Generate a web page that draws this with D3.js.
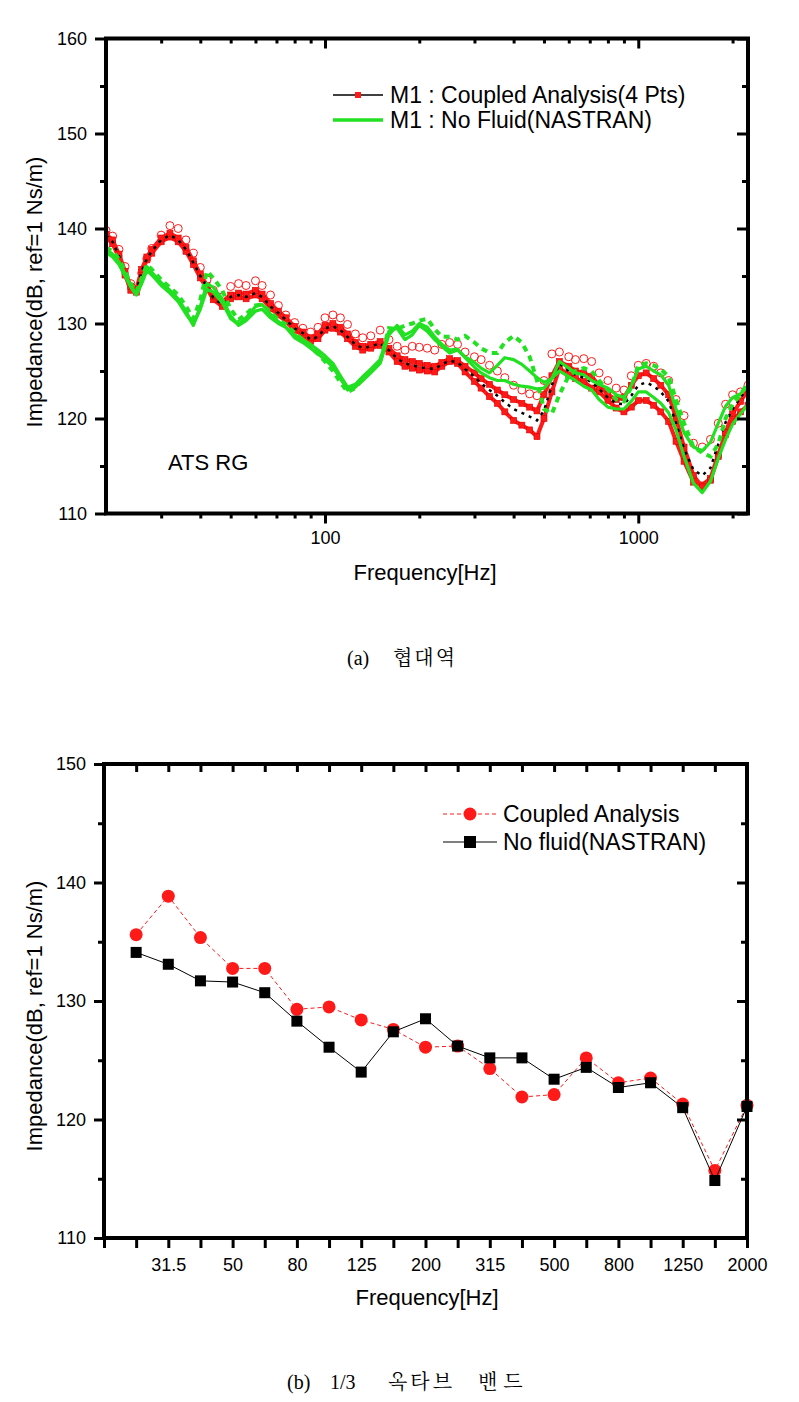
<!DOCTYPE html>
<html><head><meta charset="utf-8">
<script src="https://cdn.jsdelivr.net/npm/d3@7"></script>
<style>body{margin:0;background:#fff;} svg{display:block;} text{fill:#000;}</style>
</head><body><svg id="c" width="799" height="1402"></svg>
<script>
// ---------- (a) narrow band data ----------
const nbFreq = [20,21,22,23,24,25,26,27,28,30,
 32,34,36,38,40,42,44,47,50,53,
 56,60,63,67,71,75,80,85,90,95,
 100,106,112,118,125,132,140,150,160,170,
 180,190,200,212,224,236,250,265,280,300,
 315,335,355,375,400,425,450,475,500,530,
 560,600,630,670,710,750,800,850,900,950,
 1000,1060,1120,1180,1250,1320,1400,1500,1600,1700,
 1800,1900,2000,2120,2240];
const cplSqA = [139.1,138.4,136.9,135.1,133.5,133.3,135.4,136.7,137.4,138.6,
 139.1,138.6,137.6,136.2,134.8,133.7,132.5,131.8,132.6,132.8,
 132.6,133.0,132.6,131.6,130.9,130.2,129.3,128.8,128.1,128.4,
 129.3,129.5,129.1,128.4,127.6,127.2,127.4,127.7,127.0,126.0,
 125.5,125.3,125.1,125.0,124.9,125.5,126.0,125.8,124.9,123.9,
 123.2,122.3,121.6,120.7,119.8,119.3,118.8,118.1,120.0,122.8,
 125.3,124.6,124.2,123.9,123.2,122.8,121.9,121.1,120.7,121.2,
 121.9,121.9,121.4,120.7,119.7,117.6,115.5,113.3,113.0,113.7,
 116.2,118.3,119.7,120.7,121.4];
const cplSqB = [139.4,138.8,137.3,135.5,133.9,133.6,135.7,137.0,137.8,139.0,
 139.5,139.0,138.0,136.6,135.2,134.0,132.9,132.3,133.0,133.2,
 133.1,133.5,133.1,132.1,131.3,130.6,129.7,129.1,128.5,128.9,
 129.8,130.0,129.6,128.9,128.0,127.6,127.8,128.1,127.4,126.6,
 126.2,126.0,125.8,125.6,125.5,125.9,126.3,126.1,125.5,124.8,
 124.2,123.6,123.0,122.5,122.0,121.6,121.2,120.8,122.5,124.5,
 126.0,125.5,125.0,124.8,124.4,123.5,122.5,122.0,122.2,123.5,
 124.5,124.8,124.2,123.5,122.5,120.0,117.0,114.0,112.8,113.5,
 116.0,118.5,120.5,121.8,123.0];
const cplCirc = [139.8,139.2,137.8,136.0,134.2,133.6,135.3,136.8,137.9,139.3,
 140.3,140.0,138.8,137.4,135.9,134.6,133.5,132.8,133.9,134.2,
 134.0,134.5,134.0,133.0,131.9,130.9,130.1,129.5,129.1,129.6,
 130.6,130.9,130.6,129.9,128.9,128.5,128.7,129.3,128.3,127.6,
 127.2,127.6,127.5,127.4,127.2,127.8,128.0,127.8,127.0,126.5,
 126.2,125.6,125.0,124.3,123.5,123.0,122.6,122.4,124.0,126.8,
 127.0,126.5,126.2,126.3,126.0,124.8,124.0,123.2,123.0,124.5,
 125.6,125.8,125.5,124.8,124.0,122.0,120.3,117.4,117.0,117.8,
 119.5,121.5,122.5,122.8,123.5];
const cplDash = [139.3,138.6,137.1,135.3,133.7,133.4,135.5,136.8,137.6,138.8,
 139.3,138.8,137.8,136.4,135.0,133.9,132.7,132.0,132.8,133.0,
 132.8,133.2,132.8,131.8,131.1,130.4,129.5,129.0,128.3,128.6,
 129.5,129.7,129.3,128.6,127.8,127.4,127.6,127.9,127.2,126.3,
 125.8,125.6,125.4,125.3,125.2,125.7,126.1,125.9,125.2,124.4,
 123.7,123.0,122.4,121.7,121.0,120.6,120.2,119.8,120.8,123.5,
 125.8,125.0,124.6,124.3,123.8,123.1,122.2,121.6,121.5,122.4,
 123.5,123.8,123.4,122.8,121.8,119.5,116.8,114.6,114.0,114.8,
 117.3,119.6,121.0,122.2,123.3];
const nfA = [137.8,137.3,136.5,135.3,134.0,133.1,134.5,136.0,135.4,134.3,
 133.5,132.6,131.3,129.8,131.8,134.2,133.8,132.6,130.8,129.8,
 130.3,131.3,131.5,130.6,130.0,129.6,128.8,128.3,127.8,127.2,
 126.6,125.8,124.5,123.3,123.6,124.4,125.2,126.2,129.2,129.5,
 128.3,128.8,129.8,129.2,128.3,127.6,126.9,127.2,126.5,125.9,
 125.3,124.8,125.6,126.4,126.2,125.7,125.0,124.3,123.8,124.2,
 126.0,125.3,124.8,124.6,124.0,123.6,123.2,122.5,122.2,123.5,
 125.2,125.5,125.0,124.6,123.5,121.0,118.5,117.0,116.6,117.5,
 119.5,121.3,122.2,122.6,123.5];
const nfB = [137.5,137.0,136.2,135.0,133.8,133.0,134.2,135.6,135.1,134.0,
 133.2,132.3,131.0,129.9,131.5,133.6,133.3,132.2,130.5,129.9,
 130.6,131.8,132.0,131.0,130.2,129.6,128.5,128.0,127.4,126.8,
 126.2,125.4,124.2,123.0,123.3,124.0,124.8,125.8,128.8,129.8,
 128.8,129.2,130.0,129.6,128.6,127.8,127.2,127.3,126.4,125.4,
 124.8,124.3,124.0,124.0,123.6,123.4,123.3,123.1,123.2,124.2,
 125.0,124.4,124.0,123.4,123.0,122.0,121.2,121.0,121.0,121.8,
 122.8,122.8,122.2,121.6,120.6,118.8,116.0,113.2,112.2,113.4,
 115.8,117.8,119.4,120.5,121.5];
const nfC = [138.0,137.6,136.8,135.5,134.2,133.3,134.8,136.2,135.7,134.6,
 133.8,133.0,131.8,130.5,132.5,135.5,134.8,133.5,131.5,130.4,
 131.0,131.9,132.0,131.2,130.4,129.9,129.0,128.3,127.5,126.8,
 126.0,125.0,123.8,122.8,123.2,124.2,125.0,126.0,129.5,129.4,
 129.8,130.0,130.3,130.5,129.4,128.6,128.6,128.3,128.7,128.0,
 127.4,126.9,126.9,128.0,128.7,128.0,126.5,124.0,121.0,120.5,
 122.5,124.5,125.0,125.3,125.0,124.0,123.0,122.0,121.8,123.3,
 125.6,125.8,125.6,125.2,124.4,122.0,119.5,117.0,116.4,116.0,
 117.3,120.0,121.5,122.5,123.8];
const nbMajorTicks = [100, 1000];
const nbMinorTicks = [30,40,50,60,70,80,90,200,300,400,500,600,700,800,900,2000];
const yTicksA = [110,120,130,140,150,160];
const yMinorA = [115,125,135,145,155];
const legendA = ["M1 : Coupled Analysis(4 Pts)", "M1 : No Fluid(NASTRAN)"];

// ---------- (b) 1/3 octave data ----------
const bandLabels = ["20","25","31.5","40","50","63","80","100","125","160","200","250","315","400","500","630","800","1000","1250","1600","2000"];
const obBands = ["25","31.5","40","50","63","80","100","125","160","200","250","315","400","500","630","800","1000","1250","1600","2000"];
const coupledOB = [135.6,138.85,135.35,132.75,132.75,129.3,129.5,128.4,127.6,126.1,126.2,124.3,121.9,122.1,125.2,123.1,123.5,121.3,115.7,121.2];
const noFluidOB = [134.1,133.1,131.7,131.6,130.7,128.3,126.1,124.0,127.4,128.5,126.2,125.2,125.2,123.4,124.4,122.7,123.1,121.0,114.85,121.1];
const obShownLabels = ["31.5","50","80","125","200","315","500","800","1250","2000"];
const yTicksB = [110,120,130,140,150];
const yMinorB = [115,125,135,145];
const legendB = ["Coupled Analysis", "No fluid(NASTRAN)"];

const RED = "#ff1a1a", GREEN = "#22e022";
const SANS = 'Arial, "Liberation Sans", sans-serif';
const SERIF = '"Liberation Serif", "DejaVu Serif", serif';
const KR = '"Noto Serif CJK KR", "Noto Sans CJK KR", serif';
const svg = d3.select('#c');
svg.append('rect').attr('width',799).attr('height',1402).attr('fill','#fff');

function txt(g, x, y, s, size, family){
  return g.append('text').attr('x',x).attr('y',y).style('font-family',family||SANS)
    .style('font-size',size+'px').text(s);
}
function styleAxis(g, showText){
  g.select('.domain').remove();
  g.selectAll('.tick line').attr('stroke','#000').attr('stroke-width',3);
  g.selectAll('.tick text').style('font-size','18px').style('font-family',SANS).attr('fill','#000');
  if(!showText) g.selectAll('.tick text').remove();
}

// ================= Chart (a) =================
const A = {l:106, r:748, t:38.5, b:513.5};
const xA = d3.scaleLog().domain([20,2240]).range([A.l,A.r]);
const yA = d3.scaleLinear().domain([110,160]).range([A.b,A.t]);

svg.append('clipPath').attr('id','clipA').append('rect')
  .attr('x',A.l).attr('y',A.t).attr('width',A.r-A.l).attr('height',A.b-A.t);
const gA = svg.append('g').attr('clip-path','url(#clipA)');

const ptsA = vals => nbFreq.map((f,i)=>[f, vals[i]]);
const lineA = d3.line().x(d=>xA(d[0])).y(d=>yA(d[1]));

[cplSqA, cplSqB].forEach(vals=>{
  gA.append('path').datum(ptsA(vals)).attr('d',lineA).attr('fill','none')
    .attr('stroke',RED).attr('stroke-width',4);
  gA.selectAll(null).data(ptsA(vals)).enter().append('rect')
    .attr('x',d=>xA(d[0])-3).attr('y',d=>yA(d[1])-3).attr('width',6).attr('height',6)
    .attr('fill',RED).attr('stroke','#d00').attr('stroke-width',0.6);
});
gA.selectAll(null).data(ptsA(cplCirc)).enter().append('circle')
  .attr('cx',d=>xA(d[0])).attr('cy',d=>yA(d[1])).attr('r',4)
  .attr('fill','none').attr('stroke',RED).attr('stroke-width',1);
gA.append('path').datum(ptsA(cplDash)).attr('d',lineA).attr('fill','none')
  .attr('stroke','#000').attr('stroke-width',2.5).attr('stroke-dasharray','3,5');
[nfA, nfB].forEach(vals=>{
  gA.append('path').datum(ptsA(vals)).attr('d',lineA).attr('fill','none')
    .attr('stroke',GREEN).attr('stroke-width',3.2).attr('stroke-linejoin','round');
});
gA.append('path').datum(ptsA(nfC)).attr('d',lineA).attr('fill','none')
  .attr('stroke',GREEN).attr('stroke-width',4).attr('stroke-dasharray','6,5');

styleAxis(svg.append('g').attr('transform',`translate(0,${A.b})`)
  .call(d3.axisBottom(xA).tickValues(nbMajorTicks).tickSize(10).tickPadding(8).tickFormat(d3.format('d'))), true);
styleAxis(svg.append('g').attr('transform',`translate(0,${A.b})`)
  .call(d3.axisBottom(xA).tickValues(nbMinorTicks).tickSize(5)), false);
styleAxis(svg.append('g').attr('transform',`translate(0,${A.t})`)
  .call(d3.axisBottom(xA).tickValues(nbMajorTicks).tickSize(10)), false);
styleAxis(svg.append('g').attr('transform',`translate(0,${A.t})`)
  .call(d3.axisBottom(xA).tickValues(nbMinorTicks).tickSize(5)), false);
styleAxis(svg.append('g').attr('transform',`translate(${A.l},0)`)
  .call(d3.axisLeft(yA).tickValues(yTicksA).tickSize(11).tickPadding(8)), true);
styleAxis(svg.append('g').attr('transform',`translate(${A.l},0)`)
  .call(d3.axisLeft(yA).tickValues(yMinorA).tickSize(6)), false);
styleAxis(svg.append('g').attr('transform',`translate(${A.r},0)`)
  .call(d3.axisLeft(yA).tickValues(yTicksA).tickSize(11)), false);
styleAxis(svg.append('g').attr('transform',`translate(${A.r},0)`)
  .call(d3.axisLeft(yA).tickValues(yMinorA).tickSize(6)), false);
svg.append('rect').attr('x',A.l).attr('y',A.t).attr('width',A.r-A.l).attr('height',A.b-A.t)
  .attr('fill','none').attr('stroke','#000').attr('stroke-width',4);

txt(svg,0,0,'Impedance(dB, ref=1 Ns/m)',22).attr('transform','translate(42,292) rotate(-90)').attr('text-anchor','middle');
txt(svg,425,580,'Frequency[Hz]',22).attr('text-anchor','middle');
txt(svg,168,470,'ATS RG',22);

const lgA = svg.append('g');
lgA.append('line').attr('x1',333).attr('x2',383).attr('y1',95).attr('y2',95).attr('stroke','#000').attr('stroke-width',1.3);
lgA.append('rect').attr('x',355).attr('y',92).attr('width',6).attr('height',6).attr('fill',RED);
lgA.append('line').attr('x1',333).attr('x2',383).attr('y1',120).attr('y2',120).attr('stroke',GREEN).attr('stroke-width',3.5);
legendA.forEach((s,i)=>txt(lgA,390,103+i*25,s,23));

txt(svg,347,665,'(a)',20,SERIF);
txt(svg,393,665,'협대역',20,KR).style('letter-spacing','2px');

// ================= Chart (b) =================
const B = {l:104, r:747, t:764, b:1238};
const xB = d3.scalePoint().domain(bandLabels).range([B.l,B.r]);
const yB = d3.scaleLinear().domain([110,150]).range([B.b,B.t]);
const lineB = d3.line().x(d=>xB(d[0])).y(d=>yB(d[1]));
const gB = svg.append('g');
const cpts = obBands.map((b,i)=>[b, coupledOB[i]]);
const npts = obBands.map((b,i)=>[b, noFluidOB[i]]);

gB.append('path').datum(cpts).attr('d',lineB).attr('fill','none')
  .attr('stroke',RED).attr('stroke-width',1).attr('stroke-dasharray','4,3');
gB.selectAll(null).data(cpts).enter().append('circle')
  .attr('cx',d=>xB(d[0])).attr('cy',d=>yB(d[1])).attr('r',6.5).attr('fill',RED);
gB.append('path').datum(npts).attr('d',lineB).attr('fill','none')
  .attr('stroke','#000').attr('stroke-width',1);
gB.selectAll(null).data(npts).enter().append('rect')
  .attr('x',d=>xB(d[0])-5.5).attr('y',d=>yB(d[1])-5.5).attr('width',11).attr('height',11).attr('fill','#000');

styleAxis(svg.append('g').attr('transform',`translate(0,${B.b})`)
  .call(d3.axisBottom(xB).tickSize(10).tickPadding(10).tickFormat(d=>obShownLabels.includes(d)?d:'')), true);
styleAxis(svg.append('g').attr('transform',`translate(0,${B.t})`)
  .call(d3.axisBottom(xB).tickSize(8)), false);
styleAxis(svg.append('g').attr('transform',`translate(${B.l},0)`)
  .call(d3.axisLeft(yB).tickValues(yTicksB).tickSize(10).tickPadding(8)), true);
styleAxis(svg.append('g').attr('transform',`translate(${B.l},0)`)
  .call(d3.axisLeft(yB).tickValues(yMinorB).tickSize(6)), false);
styleAxis(svg.append('g').attr('transform',`translate(${B.r},0)`)
  .call(d3.axisLeft(yB).tickValues(yTicksB).tickSize(10)), false);
styleAxis(svg.append('g').attr('transform',`translate(${B.r},0)`)
  .call(d3.axisLeft(yB).tickValues(yMinorB).tickSize(6)), false);
svg.append('rect').attr('x',B.l).attr('y',B.t).attr('width',B.r-B.l).attr('height',B.b-B.t)
  .attr('fill','none').attr('stroke','#000').attr('stroke-width',4);

txt(svg,0,0,'Impedance(dB, ref=1 Ns/m)',22).attr('transform','translate(42,1016) rotate(-90)').attr('text-anchor','middle');
txt(svg,427,1305,'Frequency[Hz]',22).attr('text-anchor','middle');

const lgB = svg.append('g');
lgB.append('line').attr('x1',443).attr('x2',497).attr('y1',814).attr('y2',814)
  .attr('stroke',RED).attr('stroke-width',1).attr('stroke-dasharray','4,3');
lgB.append('circle').attr('cx',470).attr('cy',814).attr('r',6.5).attr('fill',RED);
lgB.append('line').attr('x1',443).attr('x2',497).attr('y1',842).attr('y2',842)
  .attr('stroke','#000').attr('stroke-width',1);
lgB.append('rect').attr('x',464).attr('y',836).attr('width',12).attr('height',12).attr('fill','#000');
legendB.forEach((s,i)=>txt(lgB,503,822+i*28,s,23));

txt(svg,287,1389,'(b)',20,SERIF);
txt(svg,330,1389,'1/3',20,SERIF);
txt(svg,388,1389,'옥타브',20,KR).style('letter-spacing','3px');
txt(svg,478,1389,'밴드',20,KR).style('letter-spacing','6px');
</script></body></html>
